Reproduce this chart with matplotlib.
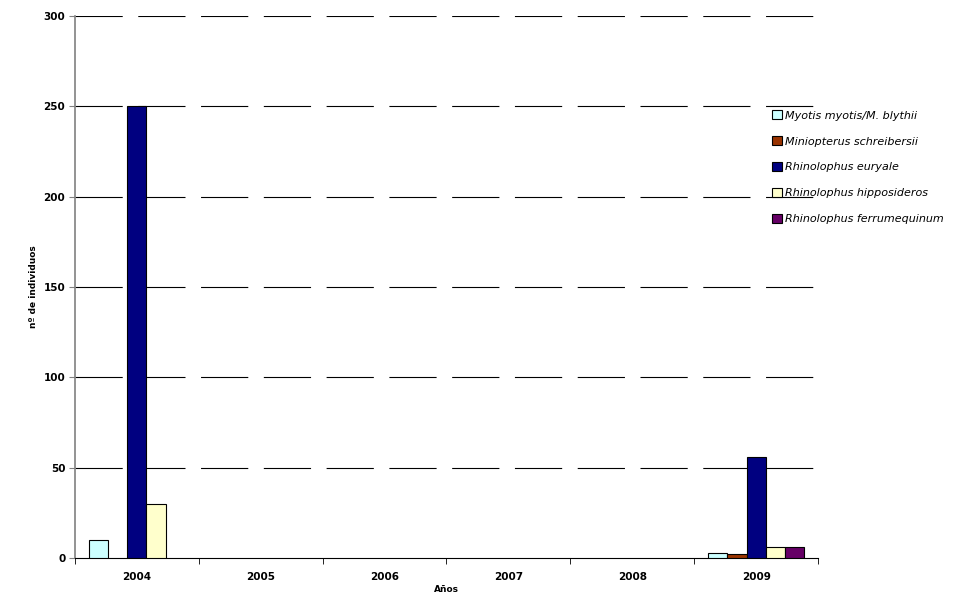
import matplotlib
matplotlib.use("Agg")
import matplotlib.pyplot as plt
from matplotlib.patches import Patch
import numpy as np

years = ["2004", "2005", "2006", "2007", "2008", "2009"]
species = ["Myotis myotis/M. blythii", "Miniopterus schreibersii", "Rhinolophus euryale",
           "Rhinolophus hipposideros", "Rhinolophus ferrumequinum"]
myotis = [10, 0, 0, 0, 0, 3]
miniopterus = [0, 0, 0, 0, 0, 2]
euryale = [250, 0, 0, 0, 0, 56]
hipposideros = [30, 0, 0, 0, 0, 6]
ferrumequinum = [0, 0, 0, 0, 0, 6]
series = [myotis, miniopterus, euryale, hipposideros, ferrumequinum]
colors = ["#CCFFFF", "#993300", "#000080", "#FFFFCC", "#660066"]
yticks = [0, 50, 100, 150, 200, 250, 300]

fig = plt.figure(figsize=(9.54, 6.03), dpi=100)
ax = fig.add_axes([75/954, 45/603, (818-75)/954, (558-16)/603])

x = np.arange(len(years))
w = 0.154
handles = []
for i, (vals, c, lab) in enumerate(zip(series, colors, species)):
    v = np.array(vals, dtype=float)
    b = ax.bar(x + (i - 2) * w, v, width=w, color=c, edgecolor="black",
               linewidth=0.8, label=lab, zorder=3)
    for patch, val in zip(b.patches, v):
        if val == 0:
            patch.set_visible(False)
    handles.append(Patch(facecolor=c, edgecolor="black", linewidth=0.8, label=lab))

ax.set_xlim(-0.5, len(years) - 0.5)
ax.set_ylim(0, 300)
ax.set_yticks(yticks)
ax.set_yticklabels([str(v) for v in yticks], fontsize=7.5, fontweight="bold")
ax.set_xticks(x)
ax.set_xticklabels(years, fontsize=7.5, fontweight="bold")
ax.set_xticks(np.arange(-0.5, len(years), 1.0), minor=True)
ax.tick_params(axis="x", which="major", length=0, pad=10)
ax.tick_params(axis="x", which="minor", length=4, direction="out", color="black")
ax.tick_params(axis="y", which="major", length=4, direction="out", color="#808080", pad=3)

for v in yticks[1:]:
    ax.axhline(v, color="black", linewidth=0.8, linestyle=(0, (42.5, 14)), zorder=1)

ax.spines["top"].set_visible(False)
ax.spines["right"].set_visible(False)
ax.spines["left"].set_color("#808080")
ax.spines["left"].set_linewidth(1.2)
ax.spines["bottom"].set_color("black")

ax.set_xlabel("Años", fontsize=6.5, fontweight="bold", labelpad=2)
ax.set_ylabel("nº de individuos", fontsize=6.5, fontweight="bold", labelpad=4)

leg = fig.legend(handles=handles, labels=species, loc="upper left",
                 bbox_to_anchor=(768/954, 1 - 106/603), frameon=False,
                 prop={"style": "italic", "size": 8}, labelspacing=1.4,
                 handlelength=0.85, handleheight=0.85, handletextpad=0.3,
                 borderaxespad=0)

fig.savefig("out.png", dpi=100)
